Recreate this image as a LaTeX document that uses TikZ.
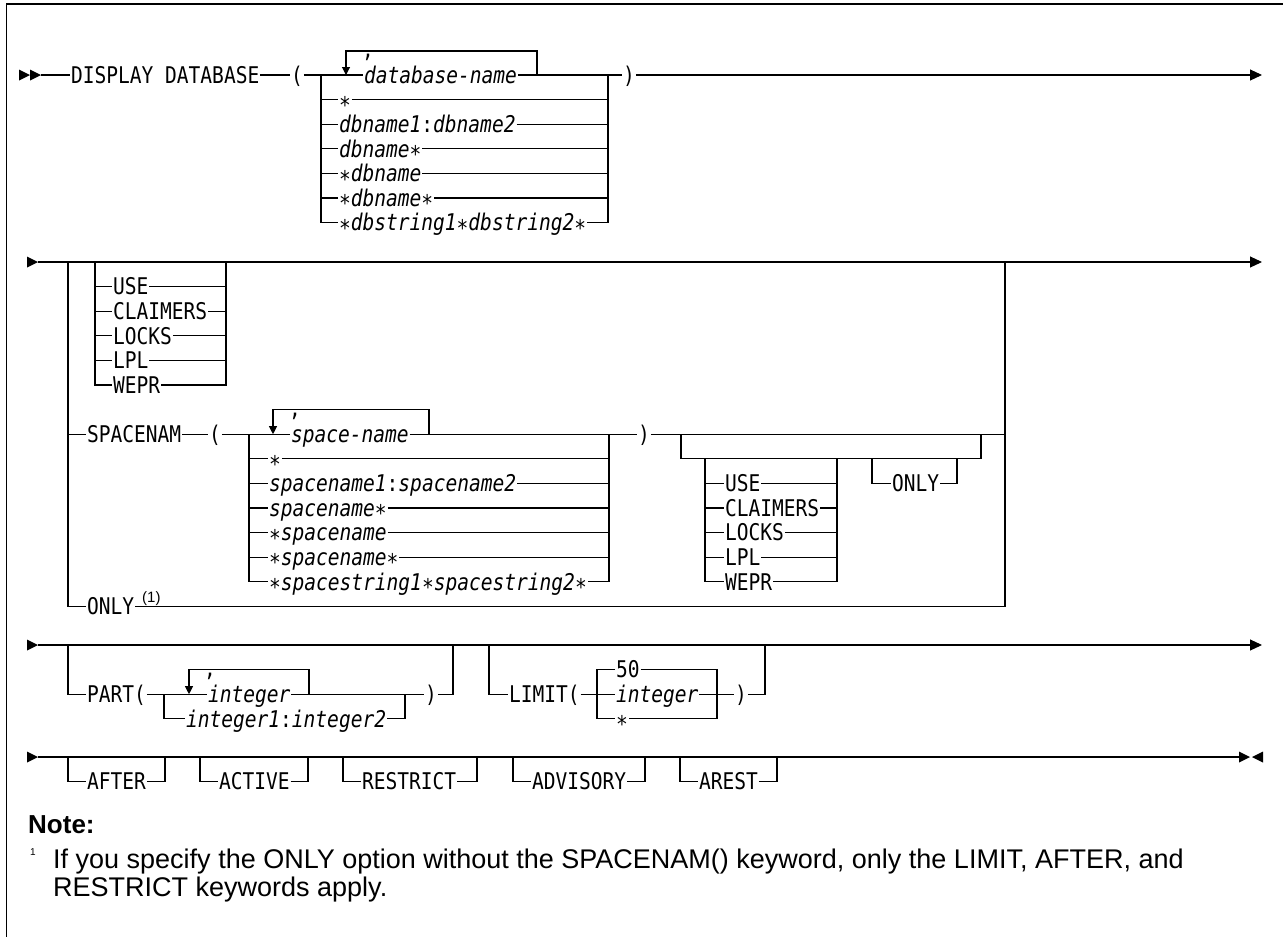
\documentclass[tikz,border=0pt]{standalone}
\usepackage{fontspec}
\setmainfont{Liberation Sans}
\newfontfamily\diagfam[FakeStretch=0.85,ItalicFont={DejaVu Sans Mono Oblique}]{DejaVu Sans Mono}
\newcommand\dfont{\diagfam\fontsize{23pt}{23pt}\selectfont}
\newcommand\astk{\raisebox{-5.5pt}{\upshape *}}
\usetikzlibrary{arrows.meta}
\tikzset{
  rail/.style={line width=1.1pt},
  endarrow/.style={rail,-{Triangle[length=12pt,width=11pt]}},
  looparrow/.style={rail,-{Triangle[length=8pt,width=8pt]}},
  kw/.style={font=\dfont, inner sep=0pt, outer sep=1pt, text height=16.5pt, text depth=0pt, anchor=west},
  sep/.style={font=\dfont, fill=white, inner sep=1.5pt, anchor=base},
  note/.style={inner sep=0pt, anchor=base west},
}
\begin{document}
\begin{tikzpicture}[x=1pt,y=-1pt]
\useasboundingbox (0,0) rectangle (1283,937);
% frame
\draw[line width=1.6pt] (1283,4) -- (6.5,4) -- (6.5,937);

% ---------- line 1: DISPLAY DATABASE ( ... )
\fill (19,69.5) -- (30,75) -- (19,80.5) -- cycle;
\fill (30,69.5) -- (41,75) -- (30,80.5) -- cycle;
\coordinate (a1) at (41,75);
\node[kw] (dd) at (70,75) {DISPLAY DATABASE};
\node[kw] (lpa) at (290,75) {(};
\coordinate (dbL) at (321,75);
\coordinate (dbR) at (608,75);
\node[kw] (dbn) at (363,75) {\itshape database-name};
\node[kw] (db1) at (338,99.6) {\astk};
\node[kw] (db2) at (338,124.2) {\itshape dbname1\upshape:\itshape dbname2};
\node[kw] (db3) at (338,148.8) {\itshape dbname\astk};
\node[kw] (db4) at (338,173.4) {\astk\itshape dbname};
\node[kw] (db5) at (338,198) {\astk\itshape dbname\astk};
\node[kw] (db6) at (338,222.6) {\astk\itshape dbstring1\astk dbstring2\astk};
\node[kw] (rpa) at (622,75) {)};
\coordinate (e1) at (1262,75);
\draw[rail] (a1) -- (dd.west) (dd.east) -- (lpa.west) (lpa.east) -- (dbn.west) (dbn.east) -- (rpa.west);
\draw[endarrow] (rpa.east) -- (e1);
\draw[rail] (dbL) |- (db6.west) (dbR) |- (db6.east);
\foreach \n in {db1,db2,db3,db4,db5}
  \draw[rail] (dbL |- \n.west) -- (\n.west) (\n.east) -- (dbR |- \n.east);
\coordinate (lp1) at (346,75);
\coordinate (lp1t) at (346,51);
\coordinate (lp1r) at (537,75);
\draw[looparrow] (lp1r) |- (lp1t) -- (lp1);
\node[sep] (cm1) at (368,57.5) {,};

% ---------- line 2: options / SPACENAM / ONLY
\fill (27,256.5) -- (38,262) -- (27,267.5) -- cycle;
\coordinate (a2) at (38,262);
\coordinate (oL) at (68,262);
\coordinate (oR) at (1005,262);
\draw[endarrow] (a2) -- (1262,262);
% first option group
\coordinate (u1L) at (95,262);
\coordinate (u1R) at (226,262);
\node[kw] (u1a) at (112,286.6) {USE};
\node[kw] (u1b) at (112,311.2) {CLAIMERS};
\node[kw] (u1c) at (112,335.8) {LOCKS};
\node[kw] (u1d) at (112,360.4) {LPL};
\node[kw] (u1e) at (112,385) {WEPR};
\draw[rail] (u1L) |- (u1e.west) (u1R) |- (u1e.east);
\foreach \n in {u1a,u1b,u1c,u1d}
  \draw[rail] (u1L |- \n.west) -- (\n.west) (\n.east) -- (u1R |- \n.east);
% SPACENAM branch
\node[kw] (spn) at (86,434.2) {SPACENAM};
\node[kw] (lpb) at (208,434.2) {(};
\coordinate (snL) at (249,434.2);
\coordinate (snR) at (609,434.2);
\node[kw] (snm) at (290,434.2) {\itshape space-name};
\node[kw] (sn1) at (268,458.8) {\astk};
\node[kw] (sn2) at (268,483.4) {\itshape spacename1\upshape:\itshape spacename2};
\node[kw] (sn3) at (268,508) {\itshape spacename\astk};
\node[kw] (sn4) at (268,532.6) {\astk\itshape spacename};
\node[kw] (sn5) at (268,557.2) {\astk\itshape spacename\astk};
\node[kw] (sn6) at (268,581.8) {\astk\itshape spacestring1\astk spacestring2\astk};
\node[kw] (rpb) at (637,434.2) {)};
\coordinate (sR) at (1005,434.2);
\draw[rail] (oL |- spn.west) -- (spn.west) (spn.east) -- (lpb.west) (lpb.east) -- (snm.west)
  (snm.east) -- (rpb.west) (rpb.east) -- (sR);
\draw[rail] (snL) |- (sn6.west) (snR) |- (sn6.east);
\foreach \n in {sn1,sn2,sn3,sn4,sn5}
  \draw[rail] (snL |- \n.west) -- (\n.west) (\n.east) -- (snR |- \n.east);
\coordinate (lp2) at (273,434.2);
\coordinate (lp2t) at (273,409.6);
\coordinate (lp2r) at (429,434.2);
\draw[looparrow] (lp2r) |- (lp2t) -- (lp2);
\node[sep] (cm2) at (295,416.1) {,};
% optional group after SPACENAM( )
\coordinate (opL) at (681,434.2);
\coordinate (opR) at (981,434.2);
\coordinate (opLb) at (681,458.8);
\coordinate (opRb) at (981,458.8);
\draw[rail] (opL) -- (opLb) -- (opRb) -- (opR);
\coordinate (u2L) at (705,458.8);
\coordinate (u2R) at (837,458.8);
\node[kw] (u2a) at (724,483.4) {USE};
\node[kw] (u2b) at (724,508) {CLAIMERS};
\node[kw] (u2c) at (724,532.6) {LOCKS};
\node[kw] (u2d) at (724,557.2) {LPL};
\node[kw] (u2e) at (724,581.8) {WEPR};
\draw[rail] (u2L) |- (u2e.west) (u2R) |- (u2e.east);
\foreach \n in {u2a,u2b,u2c,u2d}
  \draw[rail] (u2L |- \n.west) -- (\n.west) (\n.east) -- (u2R |- \n.east);
\coordinate (n2L) at (872,458.8);
\coordinate (n2R) at (957,458.8);
\node[kw] (onl2) at (891,483.4) {ONLY};
\draw[rail] (n2L) |- (onl2.west) (onl2.east) -| (n2R);
% ONLY branch with its footnote mark
\node[kw] (onl1) at (86,606.4) {ONLY};
\node[note, font=\fontsize{15pt}{15pt}\selectfont] (fn1) at (142,602.5) {(1)};
\draw[rail] (oL) |- (onl1.west) (onl1.east) -- (oR |- onl1.east) -- (oR);

% ---------- line 3: PART( ) LIMIT( )
\fill (27,639.5) -- (38,645) -- (27,650.5) -- cycle;
\coordinate (a3) at (38,645);
\draw[endarrow] (a3) -- (1262,645);
\coordinate (pL) at (68,645);
\coordinate (pR) at (453,645);
\node[kw] (prt) at (86,694.2) {PART(};
\coordinate (qL) at (164,694.2);
\coordinate (qR) at (405,694.2);
\node[kw] (pint) at (207,694.2) {\itshape integer};
\node[kw] (pi12) at (185,718.8) {\itshape integer1\upshape:\itshape integer2};
\node[kw] (rpc) at (424,694.2) {)};
\draw[rail] (pL) |- (prt.west) (prt.east) -- (pint.west) (pint.east) -- (rpc.west) (rpc.east) -| (pR);
\draw[rail] (qL) |- (pi12.west) (pi12.east) -| (qR);
\coordinate (lp3) at (189,694.2);
\coordinate (lp3t) at (189,669.6);
\coordinate (lp3r) at (309,694.2);
\draw[looparrow] (lp3r) |- (lp3t) -- (lp3);
\node[sep] (cm3) at (210,676.1) {,};
\coordinate (lL) at (489,645);
\coordinate (lR) at (765,645);
\node[kw] (lim) at (508,694.2) {LIMIT(};
\coordinate (mL) at (597,694.2);
\coordinate (mR) at (717,694.2);
\node[kw] (l50) at (615,669.6) {50};
\node[kw] (lint) at (615,694.2) {\itshape integer};
\node[kw] (lst) at (615,718.8) {\astk};
\node[kw] (rpd) at (734,694.2) {)};
\draw[rail] (lL) |- (lim.west) (lim.east) -- (lint.west) (lint.east) -- (rpd.west) (rpd.east) -| (lR);
\draw[rail] (l50.west) -| (mL |- lst.west) -- (lst.west);
\draw[rail] (l50.east) -| (mR |- lst.east) -- (lst.east);

% ---------- line 4: trailing keywords
\fill (27,751.5) -- (38,757) -- (27,762.5) -- cycle;
\coordinate (a4) at (38,757);
\coordinate (e4) at (1239,757);
\draw[rail] (a4) -- (e4);
\fill (1239,751.5) -- (1250,757) -- (1239,762.5) -- cycle;
\fill (1263,751.5) -- (1252,757) -- (1263,762.5) -- cycle;
\foreach \nm/\l/\r/\t in {kaf/68/165/AFTER, kac/200/308/ACTIVE, kre/343/477/RESTRICT, kad/513/645/ADVISORY, kar/680/777/AREST}{
  \node[kw] (\nm) at (\l+18,781.6) {\t};
  \draw[rail] (\l,757) |- (\nm.west) (\nm.east) -| (\r,757);
}

% ---------- note
\node[note, font=\bfseries\fontsize{26pt}{26pt}\selectfont] (nt) at (28,833) {Note:};
\node[note, font=\fontsize{10pt}{10pt}\selectfont] (fnm) at (30,855) {1};
\node[note, font=\fontsize{27pt}{28pt}\selectfont] (ft1) at (53,868) {If you specify the ONLY option without the SPACENAM() keyword, only the LIMIT, AFTER, and};
\node[note, font=\fontsize{27pt}{28pt}\selectfont] (ft2) at (53,896) {RESTRICT keywords apply.};
\end{tikzpicture}
\end{document}
